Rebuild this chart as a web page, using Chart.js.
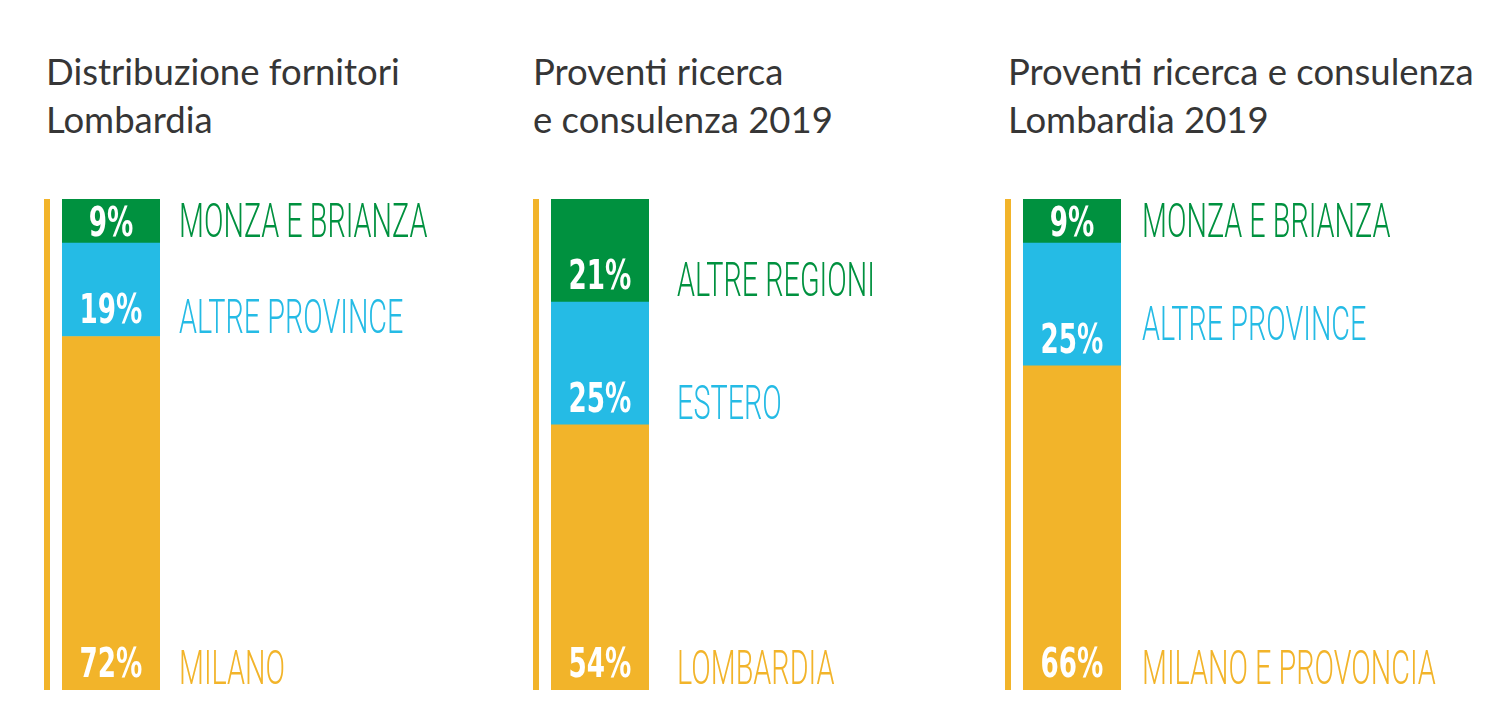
<!DOCTYPE html>
<html>
<head>
<meta charset="utf-8">
<script src="https://cdn.jsdelivr.net/npm/chart.js@4.4.1/dist/chart.umd.min.js"></script>
<style>
  html, body { margin: 0; padding: 0; background: #fff; }
  body { width: 1504px; height: 716px; position: relative; overflow: hidden; }
  .title {
    position: absolute;
    font-family: Lato, "Open Sans", sans-serif;
    font-size: 36.5px;
    line-height: 48px;
    color: #363636;
    white-space: nowrap;
  }
  .panel { position: absolute; top: 190px; width: 470px; height: 510px; }
</style>
</head>
<body>

<script>
// data
const titles = [
    ['Distribuzione fornitori', 'Lombardia'],
    ['Proventi ricerca', 'e consulenza 2019'],
    ['Proventi ricerca e consulenza', 'Lombardia 2019']
];
// segments listed from bottom to top
const categories1 = ['MILANO', 'ALTRE PROVINCE', 'MONZA E BRIANZA'];
const values1 = [72, 19, 9];
const categories2 = ['LOMBARDIA', 'ESTERO', 'ALTRE REGIONI'];
const values2 = [54, 25, 21];
const categories3 = ['MILANO E PROVONCIA', 'ALTRE PROVINCE', 'MONZA E BRIANZA'];
const values3 = [66, 25, 9];

// styles / layout
const segmentColors = ['#F2B42A', '#25BBE5', '#00913F'];
const barLeft = [62, 551, 1023];
const titleLeft = [46, 533, 1008];
const labelGap = [19, 28, 21];
const labelNudge = [[0, 3, 0], [0, 0, 0], [0, -20, 0]];

const panels = [
    { cats: categories1, vals: values1 },
    { cats: categories2, vals: values2 },
    { cats: categories3, vals: values3 }
];

// draws the yellow rule, the white percentages and the coloured names
const labelPlugin = {
    id: 'segLabels',
    beforeDatasetsDraw(chart) {
        const { ctx, chartArea } = chart;
        ctx.save();
        ctx.fillStyle = segmentColors[0];
        ctx.fillRect(chartArea.left - 18, chartArea.top, 6, chartArea.bottom - chartArea.top);
        ctx.restore();
    },
    afterDatasetsDraw(chart) {
        const { ctx, chartArea } = chart;
        const idx = chart.options.plugins.segLabels.panel;
        chart.data.datasets.forEach((ds, i) => {
            const bar = chart.getDatasetMeta(i).data[0];
            const h = bar.base - bar.y;
            const pctY = bar.base - Math.min(13, (h - 30) / 2);

            ctx.save();
            ctx.translate(bar.x, pctY);
            ctx.scale(0.64, 1);
            ctx.font = 'bold 41px "DejaVu Sans"';
            ctx.fillStyle = '#fff';
            ctx.textAlign = 'center';
            ctx.textBaseline = 'alphabetic';
            ctx.fillText(ds.data[0] + '%', 0, 0);
            ctx.restore();

            ctx.save();
            ctx.translate(chartArea.right + labelGap[idx], bar.base - 6 + labelNudge[idx][i]);
            ctx.scale(0.6, 1);
            ctx.font = '300 48px Roboto';
            ctx.fillStyle = ds.backgroundColor;
            ctx.textAlign = 'left';
            ctx.textBaseline = 'alphabetic';
            ctx.fillText(ds.label, 0, 0);
            ctx.restore();
        });
    }
};

panels.forEach((p, idx) => {
    const t = document.createElement('div');
    t.className = 'title';
    t.style.left = titleLeft[idx] + 'px';
    t.style.top = '47px';
    t.innerHTML = titles[idx].join('<br>');
    document.body.appendChild(t);

    const wrap = document.createElement('div');
    wrap.className = 'panel';
    wrap.style.left = (barLeft[idx] - 30) + 'px';
    const canvas = document.createElement('canvas');
    wrap.appendChild(canvas);
    document.body.appendChild(wrap);

    new Chart(canvas, {
        type: 'bar',
        data: {
            labels: [''],
            datasets: p.vals.map((v, i) => ({
                label: p.cats[i],
                data: [v],
                backgroundColor: segmentColors[i],
                borderWidth: 0,
                barPercentage: 1,
                categoryPercentage: 1
            }))
        },
        options: {
            responsive: true,
            maintainAspectRatio: false,
            animation: false,
            layout: { padding: { left: 30, right: 342, top: 9, bottom: 10 } },
            scales: {
                x: { stacked: true, display: false },
                y: { stacked: true, display: false, min: 0, max: 100 }
            },
            plugins: {
                legend: { display: false },
                tooltip: { enabled: false },
                segLabels: { panel: idx }
            }
        },
        plugins: [labelPlugin]
    });
});
</script>
</body>
</html>
